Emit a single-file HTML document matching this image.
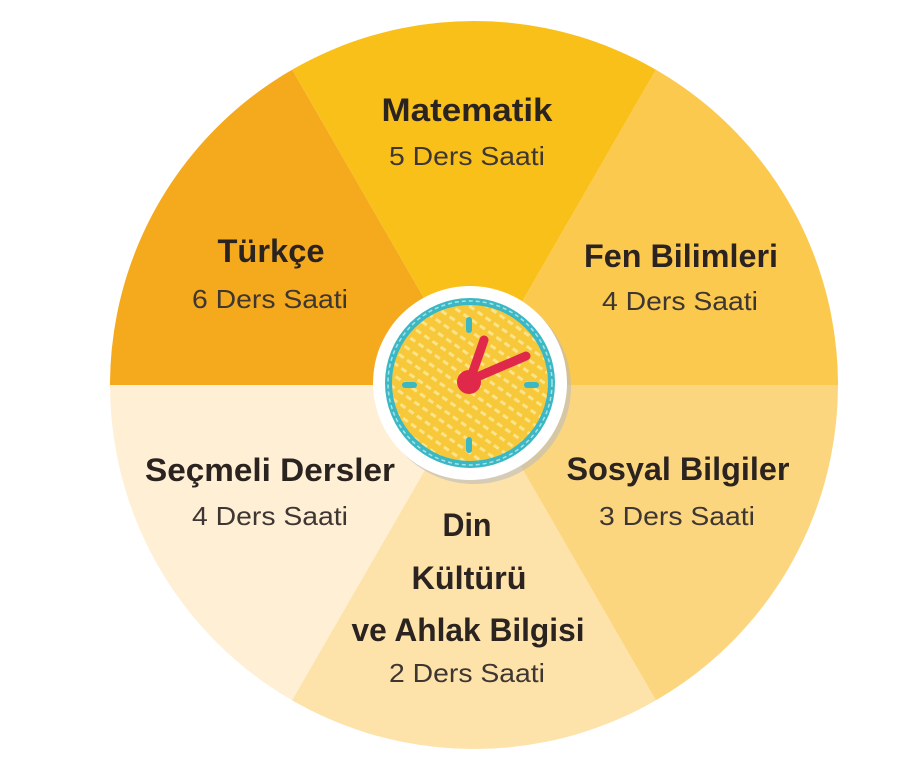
<!DOCTYPE html>
<html><head><meta charset="utf-8"><style>
html,body{margin:0;padding:0;background:#fff;width:918px;height:768px;overflow:hidden;}
svg{display:block}
.t{font-family:"Liberation Sans",sans-serif;font-weight:bold;font-size:32px;fill:#2b2320;}
.s{font-family:"Liberation Sans",sans-serif;font-size:26px;fill:#3e3632;}
</style></head><body>
<svg width="918" height="768" viewBox="0 0 918 768" xmlns="http://www.w3.org/2000/svg">
<defs><clipPath id="c"><circle cx="474" cy="385" r="364"/></clipPath>
<pattern id="hatch" width="10" height="10" patternUnits="userSpaceOnUse" patternTransform="rotate(35)">
<rect width="10" height="10" fill="#f7c93a"/><rect x="0" y="0" width="6" height="3" fill="#fbe38a"/></pattern></defs>
<g clip-path="url(#c)">
<polygon points="474,385 1000,385 778,-142" fill="#fbc94e"/>
<polygon points="474,385 778,-142 170,-142" fill="#fac01a"/>
<polygon points="474,385 170,-142 -60,385" fill="#f5a91c"/>
<polygon points="474,385 -60,385 170,912" fill="#feefd5"/>
<polygon points="474,385 170,912 778,912" fill="#fde2aa"/>
<polygon points="474,385 778,912 1000,385" fill="#fcd67f"/>
</g>
<circle cx="474" cy="387" r="97" fill="#bdbdbd" opacity="0.6"/>
<circle cx="470" cy="383" r="97" fill="#fff"/>
<circle cx="470" cy="383" r="85" fill="#3cb8c4"/>
<circle cx="470" cy="383" r="78" fill="url(#hatch)"/>
<circle cx="470" cy="383" r="82" fill="none" stroke="#a6e3e8" stroke-width="1.5" stroke-dasharray="4 3"/>
<g stroke="#3cb8c4" stroke-width="6" stroke-linecap="round">
<line x1="469" y1="320" x2="469" y2="330"/><line x1="469" y1="440" x2="469" y2="450"/>
<line x1="405" y1="385" x2="414" y2="385"/><line x1="527" y1="385" x2="536" y2="385"/>
</g>
<g stroke="#e0294a" stroke-width="9" stroke-linecap="round">
<line x1="470" y1="380" x2="484" y2="340"/><line x1="470" y1="380" x2="526" y2="356"/>
</g>
<circle cx="469" cy="382" r="12" fill="#e0294a"/>
<g text-anchor="middle" dominant-baseline="central">
<text class="t" x="467" y="110" textLength="171" lengthAdjust="spacingAndGlyphs">Matematik</text>
<text class="s" x="467" y="156" textLength="156" lengthAdjust="spacingAndGlyphs">5 Ders Saati</text>
<text class="t" x="271" y="251" textLength="107" lengthAdjust="spacingAndGlyphs">Türkçe</text>
<text class="s" x="270" y="299" textLength="156" lengthAdjust="spacingAndGlyphs">6 Ders Saati</text>
<text class="t" x="681" y="256" textLength="194" lengthAdjust="spacingAndGlyphs">Fen Bilimleri</text>
<text class="s" x="680" y="301" textLength="156" lengthAdjust="spacingAndGlyphs">4 Ders Saati</text>
<text class="t" x="678" y="469" textLength="223" lengthAdjust="spacingAndGlyphs">Sosyal Bilgiler</text>
<text class="s" x="677" y="516" textLength="156" lengthAdjust="spacingAndGlyphs">3 Ders Saati</text>
<text class="t" x="270" y="470" textLength="250" lengthAdjust="spacingAndGlyphs">Seçmeli Dersler</text>
<text class="s" x="270" y="516" textLength="156" lengthAdjust="spacingAndGlyphs">4 Ders Saati</text>
<text class="t" x="467" y="525" textLength="49" lengthAdjust="spacingAndGlyphs">Din</text>
<text class="t" x="469" y="578" textLength="115" lengthAdjust="spacingAndGlyphs">Kültürü</text>
<text class="t" x="468" y="630" textLength="233" lengthAdjust="spacingAndGlyphs">ve Ahlak Bilgisi</text>
<text class="s" x="467" y="673" textLength="156" lengthAdjust="spacingAndGlyphs">2 Ders Saati</text>
</g>
</svg>
</body></html>
